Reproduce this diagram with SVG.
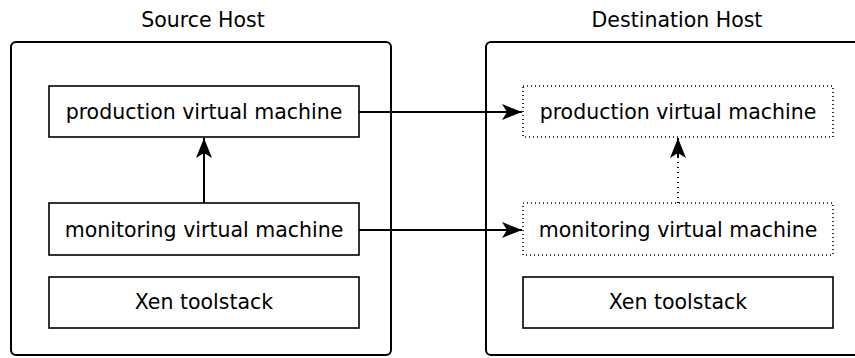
<svg xmlns="http://www.w3.org/2000/svg" width="855" height="358" viewBox="0 0 855 358">
  <style>
    text { font-family: "DejaVu Sans", sans-serif; fill: #000; text-anchor: middle; }
    .title { font-size: 20.5px; }
    .label { font-size: 20.5px; }
    .host { fill: none; stroke: #000; stroke-width: 2; }
    .box { fill: #fff; stroke: #000; stroke-width: 1.6; }
    .ghost { fill: #fff; stroke: #000; stroke-width: 1.6; stroke-dasharray: 1 3; }
    .edge { fill: none; stroke: #000; stroke-width: 2; }
    .dotted { stroke-dasharray: 1 4; }
  </style>
  <defs>
    <marker id="arrow" viewBox="0 0 20 16" refX="20" refY="8" markerWidth="20" markerHeight="16" markerUnits="userSpaceOnUse" orient="auto">
      <path d="M0,0 L20,8 L0,16 L5,8 Z" fill="#000"/>
    </marker>
  </defs>

  <!-- Source host -->
  <g id="source-host">
    <rect class="host" x="11" y="42" width="380" height="313" rx="5"/>
    <text class="title" x="203" y="27">Source Host</text>
  </g>
  <g id="src-production">
    <rect class="box" x="49" y="86" width="310" height="51"/>
    <text class="label" x="204" y="119">production virtual machine</text>
  </g>
  <g id="src-monitoring">
    <rect class="box" x="49" y="203" width="310" height="52"/>
    <text class="label" x="204" y="236.5">monitoring virtual machine</text>
  </g>
  <g id="src-toolstack">
    <rect class="box" x="49" y="277" width="310" height="51"/>
    <text class="label" x="204" y="309">Xen toolstack</text>
  </g>

  <!-- Destination host -->
  <g id="destination-host">
    <rect class="host" x="486" y="42" width="380" height="313" rx="5"/>
    <text class="title" x="677" y="27">Destination Host</text>
  </g>
  <g id="dst-production">
    <rect class="ghost" x="523" y="86" width="310" height="51"/>
    <text class="label" x="678" y="119">production virtual machine</text>
  </g>
  <g id="dst-monitoring">
    <rect class="ghost" x="523" y="203" width="310" height="52"/>
    <text class="label" x="678" y="236.5">monitoring virtual machine</text>
  </g>
  <g id="dst-toolstack">
    <rect class="box" x="523" y="277" width="310" height="51"/>
    <text class="label" x="678" y="309">Xen toolstack</text>
  </g>

  <!-- Connectors -->
  <g id="connectors">
    <line class="edge" x1="204" y1="203" x2="204" y2="138" marker-end="url(#arrow)"/>
    <line class="edge" x1="359" y1="112" x2="522" y2="112" marker-end="url(#arrow)"/>
    <line class="edge" x1="359" y1="230" x2="522" y2="230" marker-end="url(#arrow)"/>
    <line class="edge dotted" x1="678" y1="203" x2="678" y2="158"/>
    <line class="edge" x1="678" y1="158" x2="678" y2="138" marker-end="url(#arrow)"/>
  </g>
</svg>
